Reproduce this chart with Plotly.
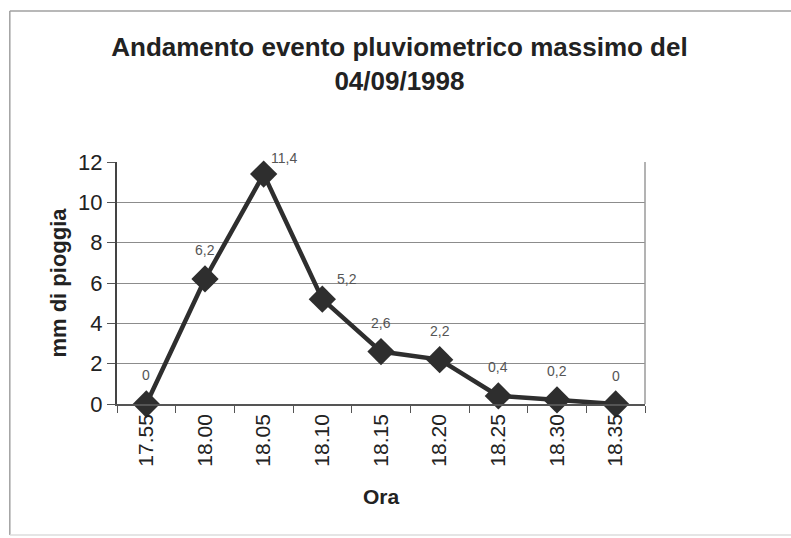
import plotly.graph_objects as go

# Dati: ora e millimetri di pioggia
ore = ["17.55", "18.00", "18.05", "18.10", "18.15", "18.20", "18.25", "18.30", "18.35"]
pioggia_mm = [0, 6.2, 11.4, 5.2, 2.6, 2.2, 0.4, 0.2, 0]
etichette = ["0", "6,2", "11,4", "5,2", "2,6", "2,2", "0,4", "0,2", "0"]

# spostamento delle etichette rispetto al punto (pixel)
sposta_x = [0, 0, 20, 25, 0, 0, 0, 0, 0]
sposta_y = [29, 29, 16, 20, 29, 29, 29, 29, 28]

fig = go.Figure()

fig.add_trace(go.Scatter(
    x=ore,
    y=pioggia_mm,
    mode="lines+markers",
    line=dict(color="#2e2e2e", width=4.5),
    marker=dict(symbol="diamond", size=21, color="#2e2e2e"),
    cliponaxis=False,
    showlegend=False,
))

# etichette dei dati (x come indice di categoria)
for i, (val, lab) in enumerate(zip(pioggia_mm, etichette)):
    fig.add_annotation(
        x=i, y=val, text=lab, showarrow=False,
        xshift=sposta_x[i], yshift=sposta_y[i],
        font=dict(family="Liberation Sans, Arial", size=14, color="#555555"),
    )

# cornice esterna del grafico
bordo = dict(color="#a0a0a0", width=1.5)
fig.add_shape(type="line", xref="paper", yref="paper",
              x0=-0.203, x1=1.45, y0=1.624, y1=1.624, line=bordo)
fig.add_shape(type="line", xref="paper", yref="paper",
              x0=-0.203, x1=-0.203, y0=-0.541, y1=1.624, line=bordo)
fig.add_shape(type="line", xref="paper", yref="paper",
              x0=-0.203, x1=1.45, y0=-0.541, y1=-0.541,
              line=dict(color="#dcdcdc", width=1.5))

# bordo destro dell'area del grafico
fig.add_shape(type="line", xref="paper", yref="paper",
              x0=1, x1=1, y0=0, y1=1,
              line=dict(color="#9a9a9a", width=1.5))

fig.update_layout(
    width=791,
    height=538,
    margin=dict(l=117, r=146, t=162, b=134),
    paper_bgcolor="white",
    plot_bgcolor="white",
    font=dict(family="Liberation Sans, Arial", color="#222222"),
    title=dict(
        text="<b>Andamento evento pluviometrico massimo del<br>04/09/1998</b>",
        x=0.505, xanchor="center", y=0.896, yanchor="top",
        font=dict(size=26, color="#222222"),
    ),
    xaxis=dict(
        type="category",
        tickson="boundaries",
        ticks="outside",
        ticklen=7,
        tickcolor="#555555",
        tickangle=-90,
        tickfont=dict(size=21),
        showgrid=False,
        showline=True,
        linecolor="#555555",
        linewidth=1.5,
        range=[-0.5, 8.5],
        title=dict(text="<b>Ora</b>", font=dict(size=21), standoff=24),
    ),
    yaxis=dict(
        range=[0, 12],
        dtick=2,
        ticks="outside",
        ticklen=8,
        tickcolor="#555555",
        tickfont=dict(size=22),
        showgrid=True,
        gridcolor="#8c8c8c",
        gridwidth=1.2,
        showline=True,
        linecolor="#444444",
        linewidth=2,
        zeroline=False,
        title=dict(text="<b>mm di pioggia</b>", font=dict(size=22), standoff=5),
    ),
)

# niente margine della pagina, niente barre di scorrimento
fig.write_html(
    "out.html",
    config=dict(displayModeBar=False),
    post_script="document.body.style.margin='0';"
                "document.documentElement.style.overflow='hidden';",
)
